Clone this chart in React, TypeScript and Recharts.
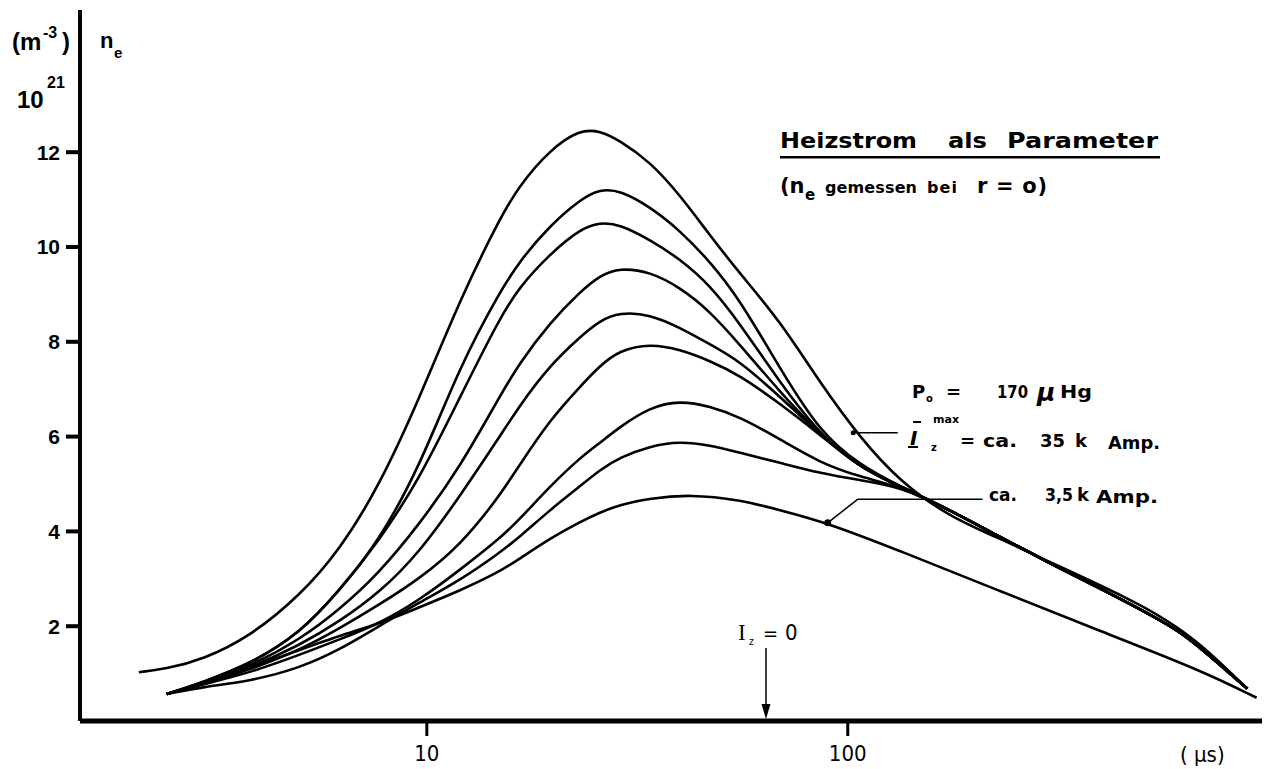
import { LineChart, Line, XAxis, YAxis, ReferenceDot, ReferenceLine } from 'recharts'

// t in µs (log axis), n_e in 10^21 m^-3
type Pt = { t: number; n: number }
const pts = (a: number[][]): Pt[] => a.map(([t, n]) => ({ t, n }))

// common decay that the upper curves share after ~130 µs
const tail = [[133, 4.95], [175, 4.45], [230, 3.88], [302, 3.33], [397, 2.8], [522, 2.25], [625, 1.86], [752, 1.25], [890, 0.68]]

const c1 = [[2.07, 1.03], [2.41, 1.1], [2.94, 1.3], [3.8, 1.78], [5.0, 2.65], [6.2, 3.6], [7.7, 4.95], [9.6, 6.8], [12, 8.9], [14.9, 10.6], [16.6, 11.3], [19.6, 12.05], [23.1, 12.48], [25.8, 12.45], [28.7, 12.25], [33.9, 11.8], [39.9, 11.1], [47, 10.25], [55.3, 9.45], [68.9, 8.45], [85.7, 7.15], [106.8, 5.98], [133, 5.05], [175, 4.3], [230, 3.85], [286, 3.45], [475, 2.55], [572, 2.13], [686, 1.65], [890, 0.68]]
const c2 = [[2.41, 0.57], [2.94, 0.82], [3.8, 1.2], [5.0, 1.85], [6.2, 2.75], [7.7, 3.8], [9.6, 5.35], [12, 7.5], [14.9, 9.05], [16.6, 9.7], [19.6, 10.45], [23.1, 11.0], [25.8, 11.22], [28.7, 11.2], [33.9, 10.85], [39.9, 10.35], [47, 9.7], [55.3, 8.9], [68.9, 7.45], [85.7, 6.1], [106.8, 5.4]]
const c3 = [[2.41, 0.57], [2.94, 0.82], [3.8, 1.2], [5.0, 1.85], [6.2, 2.75], [7.7, 3.8], [9.6, 5.1], [12, 6.84], [14.9, 8.5], [16.6, 9.16], [19.6, 9.85], [23.1, 10.38], [25.8, 10.52], [28.7, 10.48], [33.9, 10.15], [39.9, 9.75], [47, 9.2], [55.3, 8.4], [68.9, 7.15], [85.7, 6.05], [106.8, 5.35]]
const c4 = [[2.41, 0.57], [2.94, 0.8], [3.8, 1.15], [5.0, 1.72], [6.2, 2.35], [7.7, 3.12], [9.6, 4.15], [12, 5.36], [14.9, 6.85], [16.6, 7.55], [19.6, 8.4], [23.1, 9.05], [25.8, 9.4], [28.7, 9.56], [33.9, 9.48], [39.9, 9.15], [47, 8.65], [55.3, 7.95], [68.9, 6.95], [85.7, 6.05], [106.8, 5.35]]
const c5 = [[2.41, 0.57], [2.94, 0.79], [3.8, 1.12], [5.0, 1.6], [6.2, 2.1], [7.7, 2.7], [9.6, 3.55], [12, 4.75], [14.9, 6.0], [16.6, 6.65], [19.6, 7.5], [23.1, 8.1], [25.8, 8.45], [28.7, 8.62], [33.9, 8.58], [39.9, 8.3], [47, 7.95], [55.3, 7.6], [68.9, 6.85], [85.7, 6.05], [106.8, 5.35]]
const c6 = [[2.41, 0.57], [2.94, 0.78], [3.8, 1.08], [5.0, 1.5], [6.2, 1.95], [7.7, 2.45], [9.6, 3.0], [12, 3.7], [14.9, 4.75], [16.6, 5.4], [19.6, 6.35], [23.1, 7.05], [25.8, 7.5], [28.7, 7.82], [33.9, 7.96], [39.9, 7.84], [47, 7.6], [55.3, 7.3], [68.9, 6.7], [85.7, 6.05], [106.8, 5.35]]
const c7 = [[2.41, 0.57], [2.94, 0.77], [3.8, 1.02], [5.0, 1.4], [6.2, 1.72], [7.7, 2.05], [9.6, 2.55], [12, 3.19], [14.9, 3.85], [16.6, 4.25], [19.6, 4.95], [23.1, 5.55], [25.8, 5.87], [28.7, 6.2], [33.9, 6.62], [39.9, 6.76], [47, 6.64], [55.3, 6.42], [68.9, 5.95], [85.7, 5.45], [106.8, 5.15]]
const c8 = [[2.41, 0.57], [2.94, 0.72], [3.8, 0.84], [5.0, 1.12], [6.2, 1.5], [7.7, 2.0], [9.6, 2.5], [12, 2.97], [14.9, 3.55], [16.6, 3.88], [19.6, 4.45], [23.1, 4.95], [25.8, 5.3], [28.7, 5.56], [33.9, 5.8], [39.9, 5.9], [47, 5.82], [55.3, 5.66], [68.9, 5.45], [85.7, 5.23], [106.8, 5.08]]
const c9 = [[2.41, 0.57], [2.94, 0.78], [3.8, 1.12], [5.0, 1.5], [6.2, 1.8], [7.7, 2.05], [9.6, 2.4], [12, 2.75], [14.9, 3.15], [16.6, 3.42], [19.6, 3.85], [23.1, 4.2], [25.8, 4.4], [28.7, 4.56], [33.9, 4.7], [42.2, 4.78], [55.3, 4.67], [68.9, 4.45], [89.6, 4.18], [133, 3.59], [230, 2.74], [397, 1.9], [686, 1.08], [936, 0.49]]

const series = [pts(c1), ...[c2, c3, c4, c5, c6, c7, c8].map(c => pts([...c, ...tail])), pts(c9)]

const xTicks = [10, 100]
const yTicks = [2, 4, 6, 8, 10, 12]

const sans = "'Liberation Sans', Arial, sans-serif"
const wide = "'DejaVu Sans', 'Liberation Sans', sans-serif"
const narrow = "'Liberation Sans Narrow', 'DejaVu Sans Condensed', sans-serif"

function Notes() {
  return (
    <svg width={1272} height={769} style={{ position: 'absolute', left: 0, top: 0, pointerEvents: 'none' }}
      fontFamily={sans} fontWeight={700} fill="#000">
      {/* y unit */}
      <text x={12} y={50} fontSize={24}>(m</text>
      <text x={43} y={38} fontSize={16}>-3</text>
      <text x={62} y={50} fontSize={24}>)</text>
      <text x={100} y={48} fontSize={22}>n</text>
      <text x={114} y={58} fontSize={15}>e</text>
      <text x={17} y={108} fontSize={24}>10</text>
      <text x={47} y={88} fontSize={16}>21</text>

      {/* title */}
      <g fontFamily={wide}>
        <text x={780} y={148} fontSize={22} textLength={137} lengthAdjust="spacingAndGlyphs">Heizstrom</text>
        <text x={948} y={148} fontSize={22} textLength={39} lengthAdjust="spacingAndGlyphs">als</text>
        <text x={1007} y={148} fontSize={22} textLength={151} lengthAdjust="spacingAndGlyphs">Parameter</text>
        <rect x={780} y={156} width={380} height={2.5} />
        <text x={780} y={193} fontSize={21}>(n</text>
        <text x={805} y={200} fontSize={15}>e</text>
        <text x={825} y={193} fontSize={16} textLength={92} lengthAdjust="spacing">gemessen</text>
        <text x={927} y={193} fontSize={16} textLength={30} lengthAdjust="spacing">bei</text>
        <text x={977} y={193} fontSize={21} textLength={70} lengthAdjust="spacing">r = o)</text>

        {/* parameters */}
        <text x={912} y={398} fontSize={18}>P</text>
        <text x={926} y={402} fontSize={10}>o</text>
        <text x={946} y={398} fontSize={18}>=</text>
        <text x={997} y={398} fontSize={18} textLength={31} lengthAdjust="spacingAndGlyphs">170</text>
        <text x={1037} y={401} fontSize={25} fontStyle="italic">μ</text>
        <text x={1060} y={398} fontSize={18} textLength={32} lengthAdjust="spacingAndGlyphs">Hg</text>

        <text x={910} y={445} fontSize={20} fontStyle="italic">I</text>
        <rect x={913} y={421} width={8} height={2} />
        <rect x={908} y={446} width={10} height={2} />
        <text x={933} y={423} fontSize={11}>max</text>
        <text x={931} y={451} fontSize={10}>z</text>
        <text x={960} y={447} fontSize={18}>=</text>
        <text x={983} y={447} fontSize={18} textLength={34} lengthAdjust="spacingAndGlyphs">ca.</text>
        <text x={1040} y={447} fontSize={18} textLength={25} lengthAdjust="spacingAndGlyphs">35</text>
        <text x={1075} y={447} fontSize={18}>k</text>
        <text x={1108} y={449} fontSize={18} textLength={52} lengthAdjust="spacingAndGlyphs">Amp.</text>

        <text x={989} y={501} fontSize={18} textLength={28} lengthAdjust="spacingAndGlyphs">ca.</text>
        <text x={1045} y={501} fontSize={18} textLength={28} lengthAdjust="spacingAndGlyphs">3,5</text>
        <text x={1077} y={501} fontSize={18}>k</text>
        <text x={1096} y={503} fontSize={18} textLength={62} lengthAdjust="spacingAndGlyphs">Amp.</text>
      </g>

      {/* I_z = 0 marker */}
      <text x={738} y={640} fontSize={23} fontFamily="'Liberation Serif', serif" fontWeight={400}>I</text>
      <text x={749} y={645} fontSize={10} fontFamily={narrow} fontWeight={400}>z</text>
      <text x={763} y={640} fontSize={20} fontFamily={narrow} fontWeight={400}>=</text>
      <text x={785} y={640} fontSize={22} fontFamily={narrow} fontWeight={400}>0</text>
      <line x1={766} y1={648} x2={766} y2={706} stroke="#000" strokeWidth={1.5} />
      <path d="M761.5,704 L770.5,704 L766,719 Z" />

      {/* x unit */}
      <text x={1180} y={762} fontSize={22} fontFamily={narrow} fontWeight={400}>( μs)</text>
    </svg>
  )
}

export default function App() {
  return (
    <div style={{ position: 'absolute', left: 0, top: 0, width: 1272, height: 769, background: '#fff' }}>
      <LineChart width={1272} height={769} margin={{ top: 10, right: 10, bottom: 0, left: 0 }}>
        <XAxis
          dataKey="t"
          type="number"
          scale="log"
          domain={[1.5, 964]}
          allowDataOverflow
          ticks={xTicks}
          height={48}
          axisLine={{ stroke: '#000', strokeWidth: 5 }}
          tickLine={{ stroke: '#000', strokeWidth: 3 }}
          tickSize={15}
          tickMargin={9}
          tick={{ fill: '#000', fontSize: 22, fontFamily: narrow }}
        />
        <YAxis
          type="number"
          domain={[0, 15]}
          ticks={yTicks}
          width={80}
          axisLine={{ stroke: '#000', strokeWidth: 4 }}
          tickLine={{ stroke: '#000', strokeWidth: 4 }}
          tickSize={14}
          tickMargin={6}
          tick={{ fill: '#000', fontSize: 21, fontWeight: 700, fontFamily: sans }}
        />
        {series.map((d, i) => (
          <Line key={i} data={d} dataKey="n" type="basis" stroke="#000" strokeWidth={2.6}
            dot={false} activeDot={false} isAnimationActive={false} />
        ))}
        <ReferenceLine segment={[{ x: 103, y: 6.08 }, { x: 131.5, y: 6.08 }]} stroke="#000" strokeWidth={1.5} />
        <ReferenceDot x={103} y={6.08} r={2.5} fill="#000" stroke="none" />
        <ReferenceLine segment={[{ x: 89.6, y: 4.18 }, { x: 105.7, y: 4.68 }]} stroke="#000" strokeWidth={1.5} />
        <ReferenceLine segment={[{ x: 105.7, y: 4.68 }, { x: 209, y: 4.68 }]} stroke="#000" strokeWidth={1.5} />
        <ReferenceDot x={89.6} y={4.18} r={3.5} fill="#000" stroke="none" />
      </LineChart>
      <Notes />
    </div>
  )
}
